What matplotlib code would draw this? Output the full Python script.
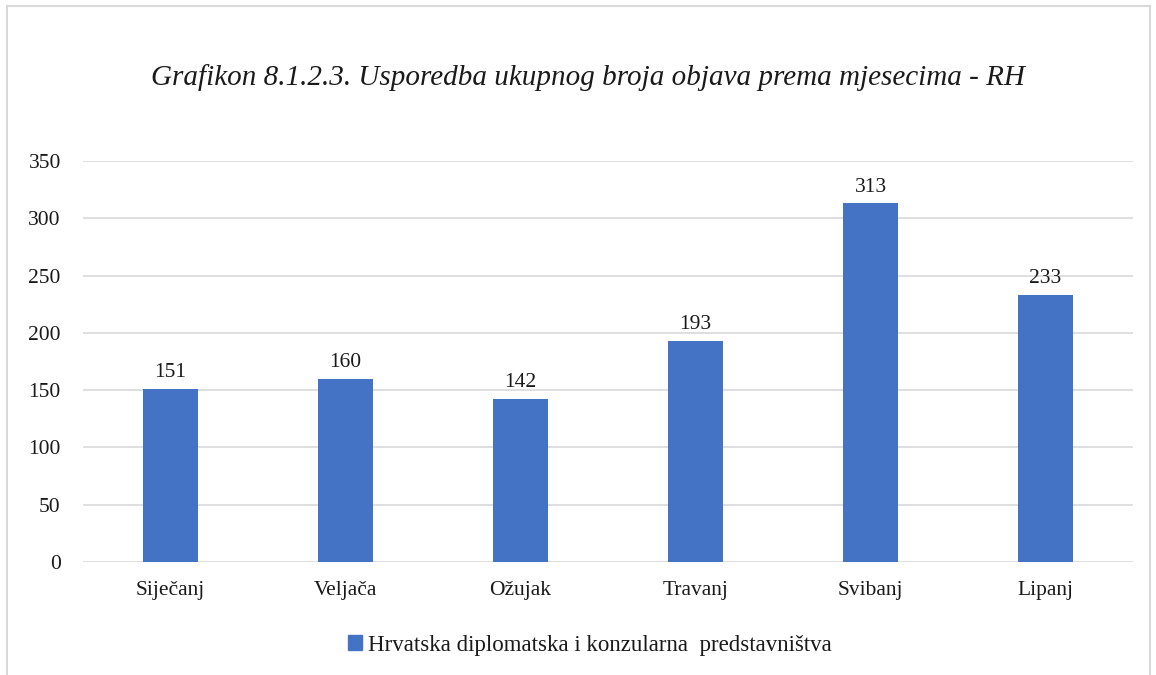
import matplotlib.pyplot as plt
from matplotlib.lines import Line2D
from matplotlib.patches import Patch

# podaci
mjeseci = ["Siječanj", "Veljača", "Ožujak", "Travanj", "Svibanj", "Lipanj"]
objave = [151, 160, 142, 193, 313, 233]
naziv_serije = "Hrvatska diplomatska i konzularna  predstavništva"
naslov = "Grafikon 8.1.2.3. Usporedba ukupnog broja objava prema mjesecima - RH"

plava = "#4472C4"
siva = "#D9D9D9"
tekst = "#1A1A1A"

plt.rcParams['font.family'] = ['Liberation Serif', 'DejaVu Serif']

fig = plt.figure(figsize=(11.56, 6.75), dpi=100)
ax = fig.add_axes([83 / 1156, 1 - 562 / 675, 1050 / 1156, 401 / 675])

x = range(len(mjeseci))
bars = ax.bar(x, objave, width=0.315, color=plava, zorder=3)
for b, v in zip(bars, objave):
    ax.text(b.get_x() + b.get_width() / 2, v + 6, str(v), ha='center', va='bottom',
            fontsize=15.5, color=tekst)

ax.set_xlim(-0.5, len(mjeseci) - 0.5)
ax.set_ylim(0, 350)
ax.set_yticks(range(0, 351, 50))
ax.set_xticks(list(x))
ax.set_xticklabels(mjeseci)
ax.tick_params(axis='both', length=0, labelsize=15.5, labelcolor=tekst)
ax.tick_params(axis='y', pad=16)
ax.tick_params(axis='x', pad=14)
ax.grid(axis='y', color=siva, linewidth=1.2, zorder=0)
for s in ax.spines.values():
    s.set_visible(False)

fig.text(588 / 1156, 1 - 78 / 675, naslov, ha='center', va='center',
         fontsize=21, style='italic', color=tekst)

leg = fig.legend(handles=[Patch(color=plava, label=naziv_serije)],
                 loc='center', bbox_to_anchor=(590 / 1156, 1 - 645 / 675),
                 frameon=False, fontsize=16.5, handlelength=0.6, handleheight=0.6,
                 handletextpad=0.3)
for t in leg.get_texts():
    t.set_color(tekst)

# okvir grafikona
fig.add_artist(Line2D([7 / 1156, 7 / 1156], [0, 1 - 6 / 675], transform=fig.transFigure,
                      color=siva, linewidth=1.5))
fig.add_artist(Line2D([7 / 1156, 1150 / 1156], [1 - 6 / 675, 1 - 6 / 675],
                      transform=fig.transFigure, color=siva, linewidth=1.5))
fig.add_artist(Line2D([1150 / 1156, 1150 / 1156], [0, 1 - 6 / 675], transform=fig.transFigure,
                      color=siva, linewidth=1.5))

fig.savefig("out.png", dpi=100)
